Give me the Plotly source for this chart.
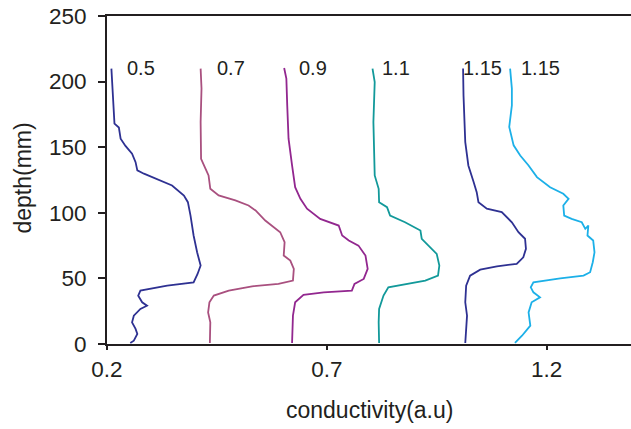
import plotly.graph_objects as go

# ---- data ----
labels = ["0.5", "0.7", "0.9", "1.1", "1.15", "1.15"]
label_x = [0.278, 0.483, 0.668, 0.858, 1.055, 1.186]
label_y = [210, 210, 210, 210, 210, 210]

c1_x = [0.210, 0.214, 0.217, 0.227, 0.231, 0.242, 0.257, 0.265, 0.269, 0.284, 0.318, 0.348, 0.375, 0.384,
        0.390, 0.397, 0.405, 0.413, 0.406, 0.397, 0.337, 0.276, 0.271, 0.280, 0.291, 0.276, 0.261, 0.257,
        0.265, 0.269, 0.261, 0.253]
c1_y = [209.9, 187, 168, 165, 156.5, 151, 145, 138.6, 132.3, 129.8, 124.7, 120.8, 113.2, 108.1,
        97.9, 82.7, 69.9, 59.8, 53.4, 47, 44.5, 40.7, 36.9, 31.8, 29.2, 26.7, 21.6, 16.5,
        11.5, 7.6, 2.5, 0.8]

c2_x = [0.413, 0.415, 0.413, 0.414, 0.424, 0.431, 0.435, 0.454, 0.492, 0.522, 0.538, 0.560, 0.594, 0.604,
        0.602, 0.617, 0.625, 0.623, 0.590, 0.530, 0.477, 0.443, 0.433, 0.430, 0.435, 0.434]
c2_y = [209.9, 194.7, 169.2, 141.2, 133.6, 128.5, 118.3, 113.2, 109.4, 105.6, 101.8, 94.1, 85.2, 77.6,
        67.4, 63.6, 57.3, 48.3, 45.8, 44, 40.7, 36.9, 31.8, 24.1, 16.5, 0.8]

c3_x = [0.603, 0.608, 0.610, 0.613, 0.621, 0.628, 0.640, 0.655, 0.685, 0.727, 0.735, 0.750, 0.772, 0.788,
        0.793, 0.784, 0.763, 0.757, 0.693, 0.647, 0.628, 0.623, 0.621]
c3_y = [210.4, 202.3, 181.9, 156.5, 136.1, 119.5, 110.7, 103.1, 95.4, 90.3, 82.7, 78.9, 75, 67.4,
        57.3, 49.6, 45.8, 40.7, 39.4, 37.4, 31.8, 21.6, 0.8]

c4_x = [0.804, 0.809, 0.806, 0.809, 0.818, 0.819, 0.837, 0.844, 0.878, 0.913, 0.916, 0.935, 0.950, 0.956,
        0.953, 0.924, 0.863, 0.840, 0.829, 0.819, 0.818, 0.819]
c4_y = [209.9, 199.7, 169.2, 128.5, 118.3, 108.1, 104.3, 97.9, 92.8, 86.5, 80.2, 73.7, 68.7, 59.8,
        52.1, 48.3, 45, 43.2, 36.9, 26.7, 16.5, 0.8]

c5_x = [1.010, 1.011, 1.015, 1.022, 1.034, 1.041, 1.045, 1.064, 1.098, 1.121, 1.136, 1.151, 1.153, 1.147,
        1.132, 1.087, 1.049, 1.026, 1.017, 1.015, 1.019, 1.015]
c5_y = [209.9, 189.5, 153.9, 136.1, 123.4, 115.7, 108.1, 103.1, 100.5, 92.8, 85.2, 80.2, 72.5, 66.1,
        61.1, 59.2, 56.7, 52.1, 44.5, 31.8, 21.6, 0.8]

c6_x = [1.117, 1.121, 1.121, 1.115, 1.125, 1.140, 1.159, 1.178, 1.208, 1.238, 1.250, 1.238, 1.240, 1.257,
        1.280, 1.288, 1.295, 1.293, 1.306, 1.309, 1.305, 1.299, 1.284, 1.231, 1.170, 1.164, 1.170, 1.185,
        1.166, 1.159, 1.163, 1.144, 1.128]
c6_y = [209.9, 194.7, 181.9, 165.4, 151.4, 143.7, 136.1, 127.2, 119.5, 114.5, 110.7, 105.6, 97.9, 95.4,
        92.8, 87.8, 90.3, 82.7, 78.9, 69.9, 62.3, 54.7, 52.1, 50.1, 47, 43.2, 39.4, 35.6,
        31.8, 24.1, 14, 6.3, 0.8]

curves = [(c1_x, c1_y), (c2_x, c2_y), (c3_x, c3_y), (c4_x, c4_y), (c5_x, c5_y), (c6_x, c6_y)]
colors = ["#2e3192", "#a9507f", "#92278f", "#12999a", "#2e3192", "#1cb0e8"]

x_ticks = [0.2, 0.7, 1.2]
y_ticks = [0, 50, 100, 150, 200, 250]

FONT = "Liberation Sans, Arial, sans-serif"
TXT = "#231f20"

L, R, T, B = 106.5, 0, 16, 85
PW, PH = 631 - L - R, 429 - T - B

fig = go.Figure()
for (xs, ys), col in zip(curves, colors):
    fig.add_trace(go.Scatter(x=xs, y=ys, mode="lines",
                             line=dict(color=col, width=1.8), showlegend=False))

for t, lx, ly in zip(labels, label_x, label_y):
    fig.add_annotation(x=lx, y=ly, text=t, showarrow=False, xanchor="center", yanchor="middle",
                       font=dict(family=FONT, size=20, color=TXT))

fig.add_annotation(xref="paper", yref="paper", x=(369.5 - L) / PW, y=-(410 - (429 - B)) / PH,
                   text="conductivity(a.u)", showarrow=False, xanchor="center", yanchor="middle",
                   font=dict(family=FONT, size=23, color=TXT))
fig.add_annotation(xref="paper", yref="paper", x=-(L - 22) / PW, y=((429 - B) - 178) / PH,
                   text="depth(mm)", showarrow=False, textangle=-90, xanchor="center", yanchor="middle",
                   font=dict(family=FONT, size=23, color=TXT))

fig.update_layout(
    width=631, height=429,
    margin=dict(l=L, r=R, t=T, b=B, pad=0),
    paper_bgcolor="white", plot_bgcolor="white",
    font=dict(family=FONT, size=22, color=TXT),
    xaxis=dict(range=[0.2, 1.392], tickvals=x_ticks, ticktext=[str(v) for v in x_ticks],
               showgrid=False, zeroline=False, showline=True, linecolor=TXT, linewidth=2,
               mirror=True,
               ticks="outside", ticklen=4, tickcolor=TXT, tickwidth=1.5,
               ticklabelstandoff=0, tickfont=dict(family=FONT, size=22.5, color=TXT)),
    yaxis=dict(range=[0, 250], tickvals=y_ticks, ticktext=[str(v) for v in y_ticks],
               showgrid=False, zeroline=False, showline=True, linecolor=TXT, linewidth=2,
               ticks="outside", ticklen=7, tickcolor=TXT, tickwidth=1.5,
               ticklabelstandoff=7, tickfont=dict(family=FONT, size=22.5, color=TXT)),
)

fig.write_html("out.html")
